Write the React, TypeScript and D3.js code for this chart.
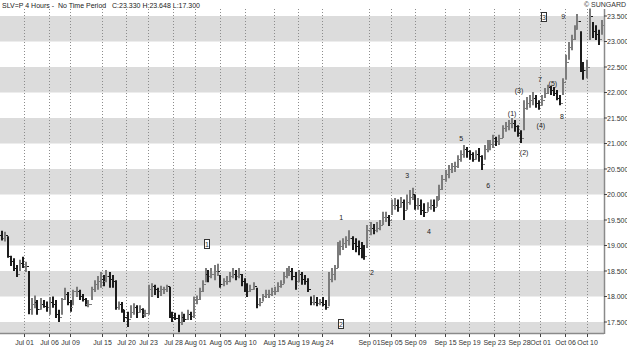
import React from "react";
import * as d3 from "d3";

const barHigh = [
  19.29, 19.27, 19.18, 18.8, 18.75, 18.62, 18.72, 18.78, 18.68, 18.5,
  17.97, 18.02, 17.93, 17.97, 17.93, 17.9, 17.99, 18.0, 17.93, 17.74,
  17.97, 18.17, 18.09, 17.93, 18.13, 18.19, 18.13, 18.05, 17.97, 17.93,
  18.19, 18.32, 18.4, 18.48, 18.42, 18.52, 18.48, 18.42, 18.32, 17.9,
  17.89, 17.74, 17.7, 17.83, 17.87, 17.83, 17.83, 17.77, 17.74, 18.23,
  18.26, 18.23, 18.17, 18.21, 18.19, 18.23, 18.19, 17.7, 17.68, 17.64,
  17.7, 17.66, 17.74, 17.7, 18.0, 18.02, 18.17, 18.32, 18.56, 18.52,
  18.56, 18.62, 18.64, 18.42, 18.36, 18.4, 18.48, 18.56, 18.52, 18.56,
  18.44, 18.36, 18.26, 18.23, 18.28, 18.17, 17.97, 18.05, 18.13, 18.13,
  18.17, 18.19, 18.28, 18.32, 18.48, 18.56, 18.6, 18.56, 18.48, 18.52,
  18.48, 18.42, 18.36, 18.0, 18.03, 17.99, 17.95, 17.99, 17.93, 18.48,
  18.56, 18.62, 19.07, 19.1, 19.14, 19.18, 19.3, 19.18, 19.14, 19.1,
  19.07, 19.01, 19.4, 19.46, 19.42, 19.46, 19.5, 19.66, 19.66, 19.6,
  19.9, 19.93, 19.9, 19.95, 19.9, 20.0, 20.09, 20.13, 20.0, 19.93,
  19.9, 19.83, 19.85, 19.9, 19.9, 19.97, 20.19, 20.38, 20.48, 20.58,
  20.62, 20.64, 20.77, 20.87, 20.97, 20.93, 20.87, 20.83, 20.87, 20.91,
  20.77, 20.97, 21.07, 21.07, 21.17, 21.13, 21.17, 21.36, 21.42, 21.46,
  21.5, 21.46, 21.36, 21.26, 21.85, 21.91, 21.95, 22.01, 21.95, 21.85,
  21.95, 22.09, 22.15, 22.13, 22.11, 22.05, 21.95, 22.28, 22.74, 22.99,
  23.13, 23.32, 23.54, 23.2, 22.6, 22.64, 23.648, 23.38, 23.32, 23.23, 23.42,
];

const barLow = [
  19.1, 19.08, 18.76, 18.6, 18.5, 18.38, 18.5, 18.56, 18.48, 17.65,
  17.64, 17.77, 17.64, 17.74, 17.78, 17.7, 17.64, 17.78, 17.58, 17.5,
  17.64, 17.93, 17.83, 17.7, 17.83, 17.99, 17.93, 17.9, 17.81, 17.79,
  17.93, 18.09, 18.13, 18.17, 18.2, 18.28, 18.17, 18.17, 17.74, 17.74,
  17.68, 17.5, 17.4, 17.58, 17.64, 17.58, 17.68, 17.58, 17.6, 17.64,
  17.99, 18.03, 17.97, 18.01, 18.05, 18.09, 17.58, 17.5, 17.54, 17.3,
  17.44, 17.5, 17.54, 17.54, 17.58, 17.85, 17.93, 18.09, 18.28, 18.28,
  18.36, 18.32, 18.4, 18.17, 18.2, 18.23, 18.28, 18.36, 18.32, 18.36,
  18.2, 18.09, 17.99, 18.09, 18.13, 17.77, 17.81, 17.9, 17.97, 17.97,
  18.01, 18.03, 18.09, 18.17, 18.25, 18.36, 18.4, 18.32, 18.13, 18.28,
  18.23, 18.23, 18.09, 17.83, 17.83, 17.81, 17.83, 17.81, 17.74, 17.81,
  18.28, 18.32, 18.56, 18.81, 18.91, 18.95, 19.0, 18.91, 18.87, 18.81,
  18.75, 18.72, 18.95, 19.2, 19.22, 19.26, 19.3, 19.4, 19.46, 19.38,
  19.6, 19.7, 19.66, 19.74, 19.5, 19.7, 19.8, 19.89, 19.7, 19.7,
  19.6, 19.56, 19.66, 19.7, 19.66, 19.76, 19.89, 20.09, 20.25, 20.32,
  20.42, 20.44, 20.52, 20.64, 20.72, 20.72, 20.68, 20.64, 20.68, 20.64,
  20.48, 20.68, 20.83, 20.87, 20.91, 20.95, 20.97, 21.11, 21.23, 21.26,
  21.3, 21.23, 21.13, 21.01, 21.26, 21.66, 21.7, 21.75, 21.7, 21.66,
  21.74, 21.89, 21.97, 21.95, 21.93, 21.85, 21.75, 21.95, 22.25, 22.64,
  22.83, 23.03, 23.23, 22.4, 22.25, 22.28, 23.03, 23.07, 23.03, 22.93, 23.13,
];

const barClose = [
  19.15, 19.2, 18.8, 18.7, 18.55, 18.45, 18.65, 18.6, 18.6, 17.75,
  17.85, 17.9, 17.75, 17.85, 17.82, 17.8, 17.9, 17.85, 17.65, 17.6,
  17.95, 18.05, 17.9, 17.8, 18.1, 18.1, 18.0, 17.95, 17.85, 17.85,
  18.15, 18.25, 18.3, 18.35, 18.3, 18.4, 18.35, 18.3, 17.8, 17.85,
  17.75, 17.6, 17.55, 17.7, 17.8, 17.7, 17.75, 17.65, 17.68, 18.15,
  18.2, 18.15, 18.1, 18.15, 18.15, 18.2, 17.65, 17.6, 17.58, 17.5,
  17.6, 17.56, 17.65, 17.62, 17.95, 17.95, 18.1, 18.25, 18.45, 18.4,
  18.45, 18.5, 18.5, 18.25, 18.3, 18.3, 18.4, 18.45, 18.4, 18.45,
  18.3, 18.15, 18.1, 18.15, 18.2, 17.85, 17.9, 18.0, 18.05, 18.05,
  18.1, 18.1, 18.2, 18.25, 18.4, 18.5, 18.5, 18.4, 18.3, 18.45,
  18.35, 18.3, 18.15, 17.9, 17.9, 17.88, 17.9, 17.85, 17.8, 18.35,
  18.45, 18.55, 18.95, 19.0, 19.05, 19.1, 19.15, 19.05, 19.0, 18.95,
  18.85, 18.8, 19.3, 19.35, 19.3, 19.35, 19.4, 19.55, 19.55, 19.5,
  19.8, 19.8, 19.75, 19.85, 19.7, 19.85, 19.95, 20.0, 19.8, 19.8,
  19.7, 19.65, 19.75, 19.8, 19.75, 19.9, 20.1, 20.3, 20.4, 20.5,
  20.55, 20.55, 20.7, 20.8, 20.9, 20.85, 20.8, 20.7, 20.8, 20.75,
  20.6, 20.9, 21.0, 21.0, 21.1, 21.05, 21.1, 21.3, 21.35, 21.4,
  21.4, 21.35, 21.2, 21.1, 21.7, 21.8, 21.85, 21.9, 21.8, 21.75,
  21.85, 22.0, 22.1, 22.05, 22.0, 21.9, 21.8, 22.2, 22.6, 22.9,
  23.05, 23.25, 23.4, 22.5, 22.45, 22.5, 23.5, 23.2, 23.15, 23.05, 23.33,
];

const firstOpen = 19.2;

const dateLabels = [
  "Jul 01", "Jul 06", "Jul 09", "Jul 15", "Jul 20", "Jul 23", "Jul 28", "Aug 01",
  "Aug 05", "Aug 10", "Aug 15", "Aug 19", "Aug 24", "Sep 01", "Sep 05", "Sep 09",
  "Sep 15", "Sep 19", "Sep 23", "Sep 28", "Oct 01", "Oct 06", "Oct 10",
];
const dateBarIndex = [
  7.5, 15.8, 22.8, 33.5, 41.5, 48.8, 57.2, 64.5, 72.8, 81.2, 90.8, 98.8, 106.8,
  122.5, 129.8, 137.8, 147.8, 155.8, 164.2, 172.5, 179.5, 187.8, 195.2,
];

const priceTicks = [17.5, 18.0, 18.5, 19.0, 19.5, 20.0, 20.5, 21.0, 21.5, 22.0, 22.5, 23.0, 23.5];
const bandTops = [23.5, 22.5, 21.5, 20.5, 19.5, 18.5, 17.5];

const waveLabels = ["1", "2", "3", "4", "5", "6", "(1)", "(2)", "(3)", "(4)", "7", "(5)", "8", "9"];
const waveBar = [113.2, 123.5, 135.2, 142.5, 153.2, 162.2, 170.2, 174.2, 172.5, 179.8, 179.5, 183.8, 186.8, 187.2];
const wavePrice = [19.54, 18.48, 20.38, 19.28, 21.09, 20.17, 21.58, 20.83, 22.03, 21.36, 22.26, 22.17, 21.52, 23.5];

const boxLabels = ["1", "2", "3"];
const boxBar = [68.5, 113.2, 180.8];
const boxPrice = [19.03, 17.46, 23.48];

const W = 627;
const H = 347;
const plotLeft = 0;
const plotRight = 604;
const plotTop = 9;
const plotBottom = 333;
const FONT = "'Liberation Sans', Arial, sans-serif";

export default function App() {
  const x = d3.scaleLinear().domain([0, 200]).range([1.5, 601.5]);
  const y = d3.scaleLinear().domain([17.5, 23.5]).range([322, 16]);

  const bars = barHigh.map((h, i) => {
    const open = i === 0 ? firstOpen : barClose[i - 1];
    const close = barClose[i];
    const cx = Math.round(x(i));
    const up = close >= open;
    const color = up ? "#7c7c7c" : "#1c1c1c";
    const yo = Math.round(y(open)) + 0.5;
    const yc = Math.round(y(close)) + 0.5;
    return (
      <g key={i} stroke={color}>
        <line x1={cx} x2={cx} y1={y(h)} y2={y(barLow[i])} strokeWidth={2} />
        <line x1={cx - 2} x2={cx} y1={yo} y2={yo} strokeWidth={1} />
        <line x1={cx} x2={cx + 2} y1={yc} y2={yc} strokeWidth={1} />
      </g>
    );
  });

  return (
    <svg
      width={W}
      height={H}
      style={{ position: "absolute", left: 0, top: 0, display: "block", background: "#fff" }}
      fontFamily={FONT}
    >
      <rect x={0} y={0} width={W} height={H} fill="#fff" />
      {bandTops.map((t) => {
        const top = y(t);
        const bot = Math.min(y(t - 0.5), plotBottom);
        return <rect key={t} x={plotLeft} y={top} width={plotRight - plotLeft} height={bot - top} fill="#dcdcdc" />;
      })}
      {dateBarIndex.map((b, k) => {
        const gx = Math.round(x(b)) + 0.5;
        return (
          <line key={k} x1={gx} x2={gx} y1={plotTop} y2={plotBottom} stroke="#8c8c8c" strokeWidth={1} strokeDasharray="1,2" />
        );
      })}
      {bars}
      <line x1={plotLeft} x2={plotRight} y1={plotBottom + 0.5} y2={plotBottom + 0.5} stroke="#8a8a8a" strokeWidth={1.5} />
      <line x1={plotRight + 0.5} x2={plotRight + 0.5} y1={plotTop} y2={plotBottom + 1} stroke="#8a8a8a" strokeWidth={1.5} />
      {dateBarIndex.map((b, k) => {
        const gx = Math.round(x(b)) + 0.5;
        return (
          <g key={k}>
            <line x1={gx} x2={gx} y1={plotBottom + 1} y2={plotBottom + 4} stroke="#444" />
            <text x={gx} y={345} fontSize={7} textAnchor="middle" fill="#333">
              {dateLabels[k]}
            </text>
          </g>
        );
      })}
      {priceTicks.map((p) => (
        <g key={p}>
          <line x1={plotRight} x2={plotRight + 3} y1={y(p)} y2={y(p)} stroke="#444" />
          <text x={607} y={y(p) + 2.5} fontSize={7} fill="#333">
            {p.toFixed(3)}
          </text>
        </g>
      ))}
      {waveLabels.map((t, k) => (
        <text key={k} x={x(waveBar[k])} y={y(wavePrice[k]) + 2.5} fontSize={7} textAnchor="middle" fill="#222">
          {t}
        </text>
      ))}
      {boxLabels.map((t, k) => {
        const bx = Math.round(x(boxBar[k]));
        const by = Math.round(y(boxPrice[k]));
        return (
          <g key={k}>
            <rect x={bx - 2.5} y={by - 4.5} width={5} height={9} fill="#fff" stroke="#333" strokeWidth={1} />
            <text x={bx} y={by + 2.5} fontSize={7} textAnchor="middle" fill="#333">
              {t}
            </text>
          </g>
        );
      })}
      <text x={2} y={8} fontSize={7} fill="#222" style={{ whiteSpace: "pre" }}>
        {"SLV=P 4 Hours -  No Time Period   C:23.330 H:23.648 L:17.300"}
      </text>
      <text x={626} y={7} fontSize={7} fill="#333" textAnchor="end">
        {"\u00A9 SUNGARD"}
      </text>
    </svg>
  );
}
